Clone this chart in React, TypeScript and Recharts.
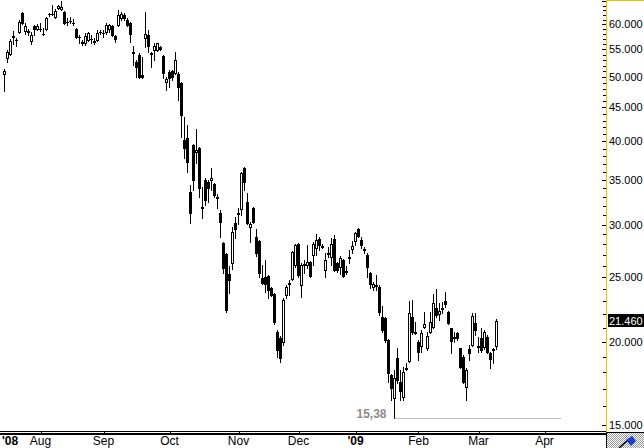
import React from 'react';
import { ComposedChart, Bar, XAxis, YAxis, ReferenceLine, Customized } from 'recharts';

// Candle values (one per trading day, index k)
const opens = [
  50510, 53390, 54140, 57420, 56830, 58420, 62390, 58620, 58620, 56630,
  59650, 59030, 59030, 58020, 59030, 62170, 62070, 61530, 63480, 63260,
  62610, 60480, 60690, 60270, 59030, 57420, 56430, 56240, 56830, 57020,
  56630, 56830, 58420, 58220, 58420, 59030, 59650, 57620, 59850, 61320,
  61960, 60900, 60270, 54510, 52660, 53950, 50340, 57220, 57820, 54330,
  54890, 54890, 55470, 53770, 49140, 50870, 51040, 50690, 50510, 48970,
  40200, 40480, 33580, 39510, 38560, 39100, 31880, 35000, 34760, 35000,
  34520, 33000, 31220, 28150, 27090, 25280, 26260, 30160, 31220, 31660,
  36490, 32440, 29750, 31770, 28740, 28340, 24900, 25020, 25110, 24090,
  23590, 20680, 20260, 19980, 23510, 24420, 24850, 26080, 28050, 24340,
  26080, 26080, 26350, 27000, 27660, 28540, 27860, 25630, 27190, 26810,
  28540, 26260, 25900, 26540, 25550, 26720, 27570, 28340, 29540, 28440,
  27570, 27000, 25370, 24170, 24340, 24170, 21790, 21710, 20120, 17820,
  16460, 18900, 17400, 16520, 18200, 18710, 21790, 20610, 19980, 19710,
  21050, 19570, 20680, 21050, 22470, 22010, 22470, 23030, 22170, 20970,
  20330, 20610, 19570, 18970, 17100, 19500, 19770, 21340, 19710, 20260,
  19640, 20330, 19230, 19430, 19710,
];
const highs = [
  51400, 54890, 57020, 58620, 57220, 60900, 62610, 60270, 59030, 58420,
  59850, 60060, 60270, 59230, 61530, 62390, 64140, 63260, 64140, 65040,
  62830, 61320, 61530, 61110, 59230, 57820, 56830, 58220, 58420, 57820,
  57220, 58830, 58830, 58830, 60270, 60060, 59850, 57820, 63040, 62610,
  62390, 61320, 60480, 55660, 53030, 54330, 53580, 62610, 58830, 54510,
  56240, 56240, 55660, 53950, 50000, 51220, 51220, 54510, 50870, 49140,
  43530, 42340, 34400, 39650, 41760, 39240, 34170, 35200, 35000, 36490,
  34640, 33350, 31550, 28250, 27190, 25990, 29750, 30800, 31770, 35990,
  36610, 33460, 30270, 31880, 29540, 28440, 26080, 26540, 25190, 24170,
  23670, 20830, 20400, 23270, 24340, 24760, 27380, 28050, 28150, 26260,
  26540, 27950, 26450, 28240, 29030, 28740, 28050, 27190, 27760, 28640,
  28940, 26350, 26910, 26600, 25990, 27470, 28340, 29240, 29640, 28740,
  27760, 27190, 25460, 24590, 25190, 24340, 22630, 21780, 20200, 17900,
  18130, 19570, 18130, 18320, 18580, 23030, 23110, 21410, 20120, 20830,
  22170, 20680, 22170, 23590, 24000, 22870, 22950, 23750, 22240, 21000,
  20680, 20680, 19600, 19100, 18260, 19770, 22090, 22090, 20330, 20970,
  20830, 20470, 19300, 19570, 21640,
];
const lows = [
  47630, 52660, 53950, 56040, 55660, 58220, 60060, 58020, 57820, 56040,
  57820, 58830, 58620, 57820, 58830, 61750, 61960, 61320, 63260, 63040,
  60060, 59850, 60270, 59850, 57300, 56240, 55850, 55850, 56630, 56240,
  56040, 56630, 58020, 57420, 58020, 58420, 57620, 56430, 59650, 60900,
  60900, 59650, 56430, 52120, 50000, 49800, 49800, 55470, 54510, 51760,
  53030, 54700, 54890, 49820, 47800, 48290, 49480, 50600, 46170, 40620,
  37770, 35990, 30160, 33810, 37120, 33000, 30690, 32100, 32440, 33810,
  33000, 31770, 28740, 25370, 22200, 23670, 25720, 28640, 30060, 31010,
  33810, 30060, 28240, 30160, 26910, 25020, 24420, 23750, 23270, 23430,
  21300, 18970, 18640, 19770, 23270, 23510, 24760, 25900, 25020, 23350,
  25370, 25810, 25020, 26080, 27000, 27470, 27660, 25020, 26810, 26080,
  25550, 25460, 25280, 25020, 25280, 26260, 27190, 27950, 28740, 27660,
  27190, 25020, 24090, 23920, 23920, 21940, 20680, 19980, 17400, 16350,
  15380, 17340, 16350, 16350, 18130, 18640, 20540, 20540, 18770, 19300,
  20970, 19430, 20610, 20970, 21790, 21560, 22090, 22550, 21260, 19230,
  19980, 20120, 18260, 17340, 16350, 18770, 19710, 20470, 19300, 19300,
  19500, 19230, 18260, 18580, 19500,
];
const closes = [
  51040, 54510, 56630, 57620, 56800, 60480, 60270, 59650, 58420, 57820,
  59030, 59650, 58930, 57950, 61320, 62120, 62170, 62830, 63920, 63700,
  60270, 60380, 60590, 60170, 57420, 57320, 56330, 57620, 58220, 56930,
  56530, 58220, 58320, 58120, 59850, 59850, 57820, 57020, 61960, 62170,
  61320, 59850, 58020, 54320, 51760, 50000, 49990, 58020, 55660, 54130,
  55660, 56240, 55080, 50690, 49650, 49820, 50000, 53030, 48290, 43830,
  39100, 37250, 31220, 35000, 38830, 34050, 31780, 32660, 34050, 35250,
  33230, 32900, 30270, 25810, 22320, 24760, 29240, 29540, 31120, 35860,
  34760, 30160, 30060, 30270, 27190, 25370, 24510, 24420, 23920, 23510,
  21410, 19430, 18900, 23110, 24170, 24510, 27280, 27950, 25190, 26080,
  26170, 26350, 25110, 28050, 28440, 27950, 27760, 26540, 27090, 28050,
  25630, 25630, 26720, 25110, 25460, 26810, 27860, 29140, 28840, 27950,
  27470, 25900, 24420, 24420, 24250, 22170, 20830, 20120, 17950, 17040,
  17640, 17520, 16860, 18010, 18260, 22090, 20680, 20680, 19300, 20610,
  21260, 20400, 21410, 22870, 21940, 22240, 22400, 22790, 21340, 20050,
  20260, 20260, 18320, 17400, 18130, 19230, 21860, 20830, 19640, 19430,
  20680, 19300, 18840, 19500, 21460,
];

// Month ticks (trading-day index) and labels
const monthTicks = [12, 33, 55, 78, 98, 117, 138, 158, 180];
const monthLabels = ['Aug', 'Sep', 'Oct', 'Nov', 'Dec', "'09", 'Feb', 'Mar', 'Apr'];
const yearTick = 1.5;
const yearLabel = "'08";

const minLowLabel = '15,38';

const Y_DOMAIN = [14632, 65263];
const X_DOMAIN = [-1.5, 200.5];

const data = opens.map((o, i) => ({
  k: i,
  range: [lows[i], highs[i]],
  o,
  h: highs[i],
  l: lows[i],
  c: closes[i],
}));

const lastClose = closes[closes.length - 1];
let minIdx = 0;
lows.forEach((v, i) => { if (v < lows[minIdx]) minIdx = i; });
const minLow = lows[minIdx];

const minorTicks: number[] = [];
for (let v = 15000; v <= 65000; v += 1000) minorTicks.push(v);
const yTicks = [...minorTicks, lastClose];

const FONT = '"Liberation Sans", Arial, sans-serif';

const fmt = (v: number) => {
  const th = Math.floor(v / 1000);
  const r = Math.round(v % 1000);
  return `${th}.${String(r).padStart(3, '0')}`;
};

const Candle = (props: any) => {
  const { x, y, width, height, payload } = props;
  if (x == null || y == null || !payload) return null;
  const cx = Math.round(x + width / 2 - 0.5) + 0.5;
  const yTop = Math.min(y, y + height);
  const yBot = Math.max(y, y + height);
  const lh = Math.log(payload.h);
  const ll = Math.log(payload.l);
  const yOf = (v: number) => yTop + ((lh - Math.log(v)) / (lh - ll)) * (yBot - yTop);
  const yo = yOf(payload.o);
  const yc = yOf(payload.c);
  const top = Math.round(Math.min(yo, yc));
  const bot = Math.round(Math.max(yo, yc));
  const wick = (
    <line x1={cx} x2={cx} y1={Math.round(yTop)} y2={Math.round(yBot) + 1} stroke="#000" strokeWidth={1} />
  );
  let body;
  if (bot - top < 1) {
    body = <line x1={cx - 1.5} x2={cx + 1.5} y1={top + 0.5} y2={top + 0.5} stroke="#000" strokeWidth={1} />;
  } else if (payload.c >= payload.o) {
    body = (
      <rect x={cx - 1} y={top + 0.5} width={2} height={Math.max(0, bot - top)} fill="#fff" stroke="#000" strokeWidth={1} />
    );
  } else {
    body = <rect x={cx - 1.5} y={top} width={3} height={Math.max(1, bot - top + 1)} fill="#000" />;
  }
  return (
    <g>
      {wick}
      {body}
    </g>
  );
};

const YTick = (props: any) => {
  const { x, y, payload } = props;
  const v = payload.value;
  const ax = Math.round(x);
  if (v === lastClose) {
    return (
      <g>
        <rect x={ax + 2} y={Math.round(y) - 7} width={38} height={13} fill="#000" />
        <text x={ax + 3} y={y} dominantBaseline="central" fontSize={11} fontFamily={FONT} fill="#fff">
          {fmt(v)}
        </text>
      </g>
    );
  }
  const major = v % 5000 === 0;
  const yy = Math.round(y) + 0.5;
  return (
    <g>
      <line x1={ax - (major ? 4 : 3)} x2={ax} y1={yy} y2={yy} stroke="#000" strokeWidth={1} />
      {major && v <= 60000 && (
        <text x={ax + 3} y={y} dominantBaseline="central" fontSize={11} fontFamily={FONT} fill="#000">
          {fmt(v)}
        </text>
      )}
    </g>
  );
};

const XTick = (props: any) => {
  const { x, y, payload } = props;
  const v = payload.value;
  if (v === yearTick) {
    return (
      <text x={x + 1} y={y + 13} textAnchor="middle" fontSize={12} fontWeight="bold" fontFamily={FONT} fill="#000">
        {yearLabel}
      </text>
    );
  }
  const idx = monthTicks.indexOf(v);
  const label = monthLabels[idx];
  const bold = label.startsWith("'");
  const tx = Math.round(x) + 0.5;
  return (
    <g>
      <line x1={tx} x2={tx} y1={y} y2={y + 3} stroke="#000" strokeWidth={1} />
      <text x={x} y={y + 13} textAnchor="middle" fontSize={12} fontWeight={bold ? 'bold' : 'normal'} fontFamily={FONT} fill="#000">
        {label}
      </text>
    </g>
  );
};

const MinLine = (props: any) => {
  const { x1, x2, y1 } = props;
  if (x1 == null) return null;
  const yy = Math.round(y1) + 0.5;
  return (
    <g>
      <line x1={x1} x2={x2} y1={yy} y2={yy} stroke="#808080" strokeWidth={1} strokeDasharray="1 1" />
      <text x={x1 - 8} y={yy - 0.5} textAnchor="end" fontSize={12} fontWeight="bold" fontFamily={FONT} fill="#8c8c8c">
        {minLowLabel}
      </text>
    </g>
  );
};

const Decorations = () => (
  <g>
    <defs>
      <pattern id="chk" width="2" height="2" patternUnits="userSpaceOnUse">
        <rect width="2" height="2" fill="#ffffff" />
        <rect width="1" height="1" fill="#9a9a9a" />
        <rect x="1" y="1" width="1" height="1" fill="#9a9a9a" />
      </pattern>
    </defs>
    <line x1={606.5} x2={606.5} y1={0} y2={432} stroke="#F2C200" strokeWidth={1} />
    <line x1={606} x2={644} y1={0.5} y2={0.5} stroke="#F2C200" strokeWidth={1} />
    <line x1={0} x2={606} y1={431.5} y2={431.5} stroke="#000" strokeWidth={1} />
    <line x1={0} x2={606} y1={434} y2={434} stroke="#000" strokeWidth={2} />
    <rect x={606} y={432} width={38} height={16} fill="url(#chk)" />
    <line x1={606.5} x2={606.5} y1={432} y2={448} stroke="#000" strokeWidth={1} />
    <line x1={606} x2={644} y1={432.5} y2={432.5} stroke="#000" strokeWidth={1} />
    <line x1={619} x2={629} y1={448} y2={439} stroke="#000" strokeWidth={1.5} />
    <polygon points="626,440 632,436 636,441 631,446" fill="#1a3cd8" />
  </g>
);

export default function App() {
  return (
    <div style={{ position: 'absolute', left: 0, top: 0, width: 644, height: 448, background: '#fff', overflow: 'hidden' }}>
      <ComposedChart width={644} height={448} data={data} margin={{ top: 0, right: 0, bottom: 0, left: 0 }}>
        <XAxis
          dataKey="k"
          type="number"
          domain={X_DOMAIN}
          allowDataOverflow
          ticks={[yearTick, ...monthTicks]}
          interval={0}
          height={16}
          tickSize={0}
          tickMargin={0}
          axisLine={false}
          tickLine={false}
          tick={<XTick />}
        />
        <YAxis
          orientation="right"
          scale="log"
          domain={Y_DOMAIN}
          allowDataOverflow
          ticks={yTicks}
          interval={0}
          width={38}
          tickSize={0}
          tickMargin={0}
          axisLine={false}
          tickLine={false}
          tick={<YTick />}
        />
        <Bar dataKey="range" barSize={3} isAnimationActive={false} shape={(p: any) => <Candle {...p} />} />
        <ReferenceLine
          segment={[{ x: minIdx, y: minLow }, { x: 185.5, y: minLow }]}
          shape={(p: any) => <MinLine {...p} />}
          ifOverflow="visible"
        />
        <Customized component={Decorations} />
      </ComposedChart>
    </div>
  );
}
